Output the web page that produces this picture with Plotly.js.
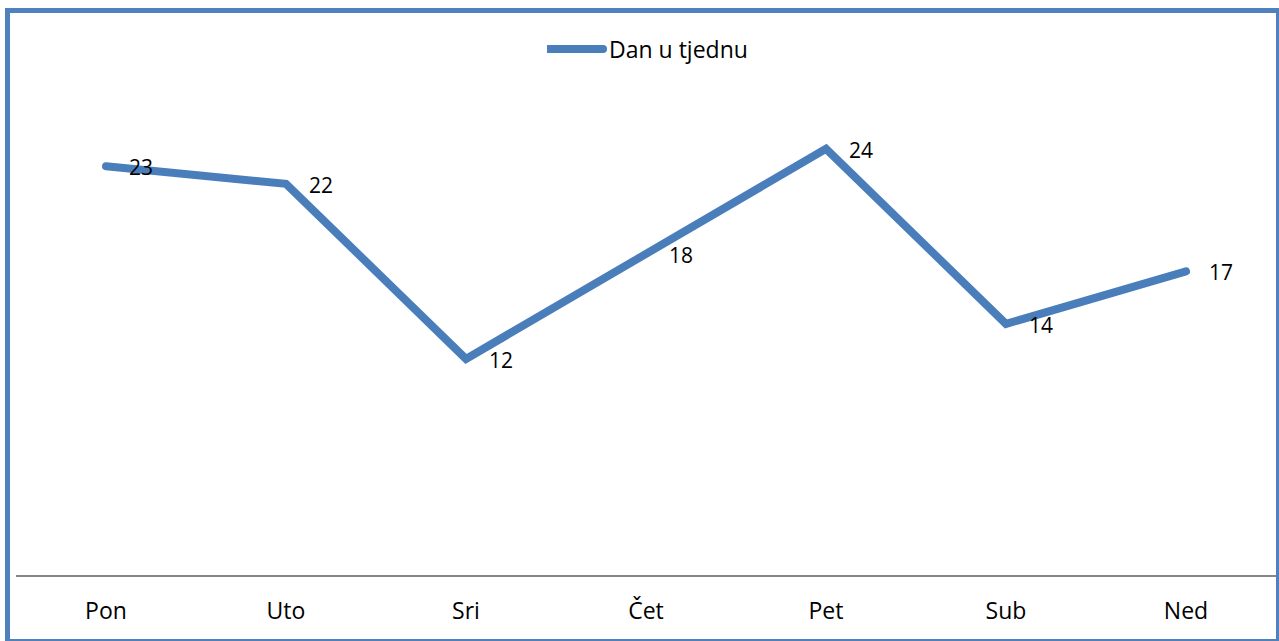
<!DOCTYPE html>
<html>
<head>
<meta charset="utf-8">
<script src="https://cdn.plot.ly/plotly-3.0.1.min.js"></script>
<style>
  html, body { margin: 0; padding: 0; background: #ffffff; overflow: hidden; }
  #wrap { position: relative; width: 1279px; height: 641px; }
  #chart { position: absolute; left: 0; top: 0; width: 1279px; height: 641px; }
  #frame { position: absolute; left: 5px; top: 8px; width: 1276px; height: 636px;
           box-sizing: border-box; border: 5px solid #4f81bd; pointer-events: none; }
  #chart .scatterlayer path.js-line { stroke-linecap: round !important; stroke-linejoin: miter !important; }
  #chart .legend path { stroke-linecap: round !important; }
</style>
</head>
<body>
<div id="wrap">
  <div id="chart"></div>
  <div id="frame"></div>
</div>
<script>
const categories = ["Pon", "Uto", "Sri", "Čet", "Pet", "Sub", "Ned"];
const values = [23, 22, 12, 18, 24, 14, 17];
const seriesName = "Dan u tjednu";

const FONT = "'Open Sans', 'Noto Sans', sans-serif";
const LINE_COLOR = "#4a7ebb";

const trace = {
  type: "scatter",
  mode: "lines",
  name: seriesName,
  x: categories,
  y: values,
  line: { color: LINE_COLOR, width: 8, shape: "linear" },
  hoverinfo: "x+y"
};

const annotations = categories.map((c, i) => ({
  x: c,
  y: values[i],
  xref: "x",
  yref: "y",
  text: String(values[i]),
  showarrow: false,
  xanchor: "left",
  yanchor: "middle",
  xshift: 21,
  yshift: -1,
  font: { family: FONT, size: 21, color: "#000000" }
}));

const layout = {
  width: 1279,
  height: 641,
  margin: { l: 16, r: 3, t: 42, b: 66, autoexpand: false },
  paper_bgcolor: "#ffffff",
  plot_bgcolor: "#ffffff",
  font: { family: FONT, size: 21, color: "#000000" },
  showlegend: true,
  legend: {
    orientation: "h",
    x: 0.5032,
    xanchor: "center",
    y: 0.987,
    yanchor: "middle",
    itemwidth: 52,
    font: { family: FONT, size: 23, color: "#000000" },
    bgcolor: "rgba(0,0,0,0)"
  },
  xaxis: {
    type: "category",
    showgrid: false,
    zeroline: false,
    showline: true,
    linecolor: "#868686",
    linewidth: 2,
    ticks: "",
    ticklabelstandoff: 14,
    tickfont: { family: FONT, size: 23, color: "#000000" },
    range: [-0.5, 6.5]
  },
  yaxis: {
    range: [-0.34, 30.1],
    showgrid: false,
    zeroline: false,
    showline: false,
    showticklabels: false,
    ticks: ""
  },
  annotations: annotations
};

function fixLegendLine() {
  document.querySelectorAll("#chart .legend .legendlines path, #chart .legend path.js-line").forEach(p => {
    p.setAttribute("d", "M-3,0h59");
  });
}

Plotly.newPlot("chart", [trace], layout, { displayModeBar: false, staticPlot: true }).then(() => {
  fixLegendLine();
  setTimeout(fixLegendLine, 50);
  setTimeout(fixLegendLine, 300);
});
</script>
</body>
</html>
